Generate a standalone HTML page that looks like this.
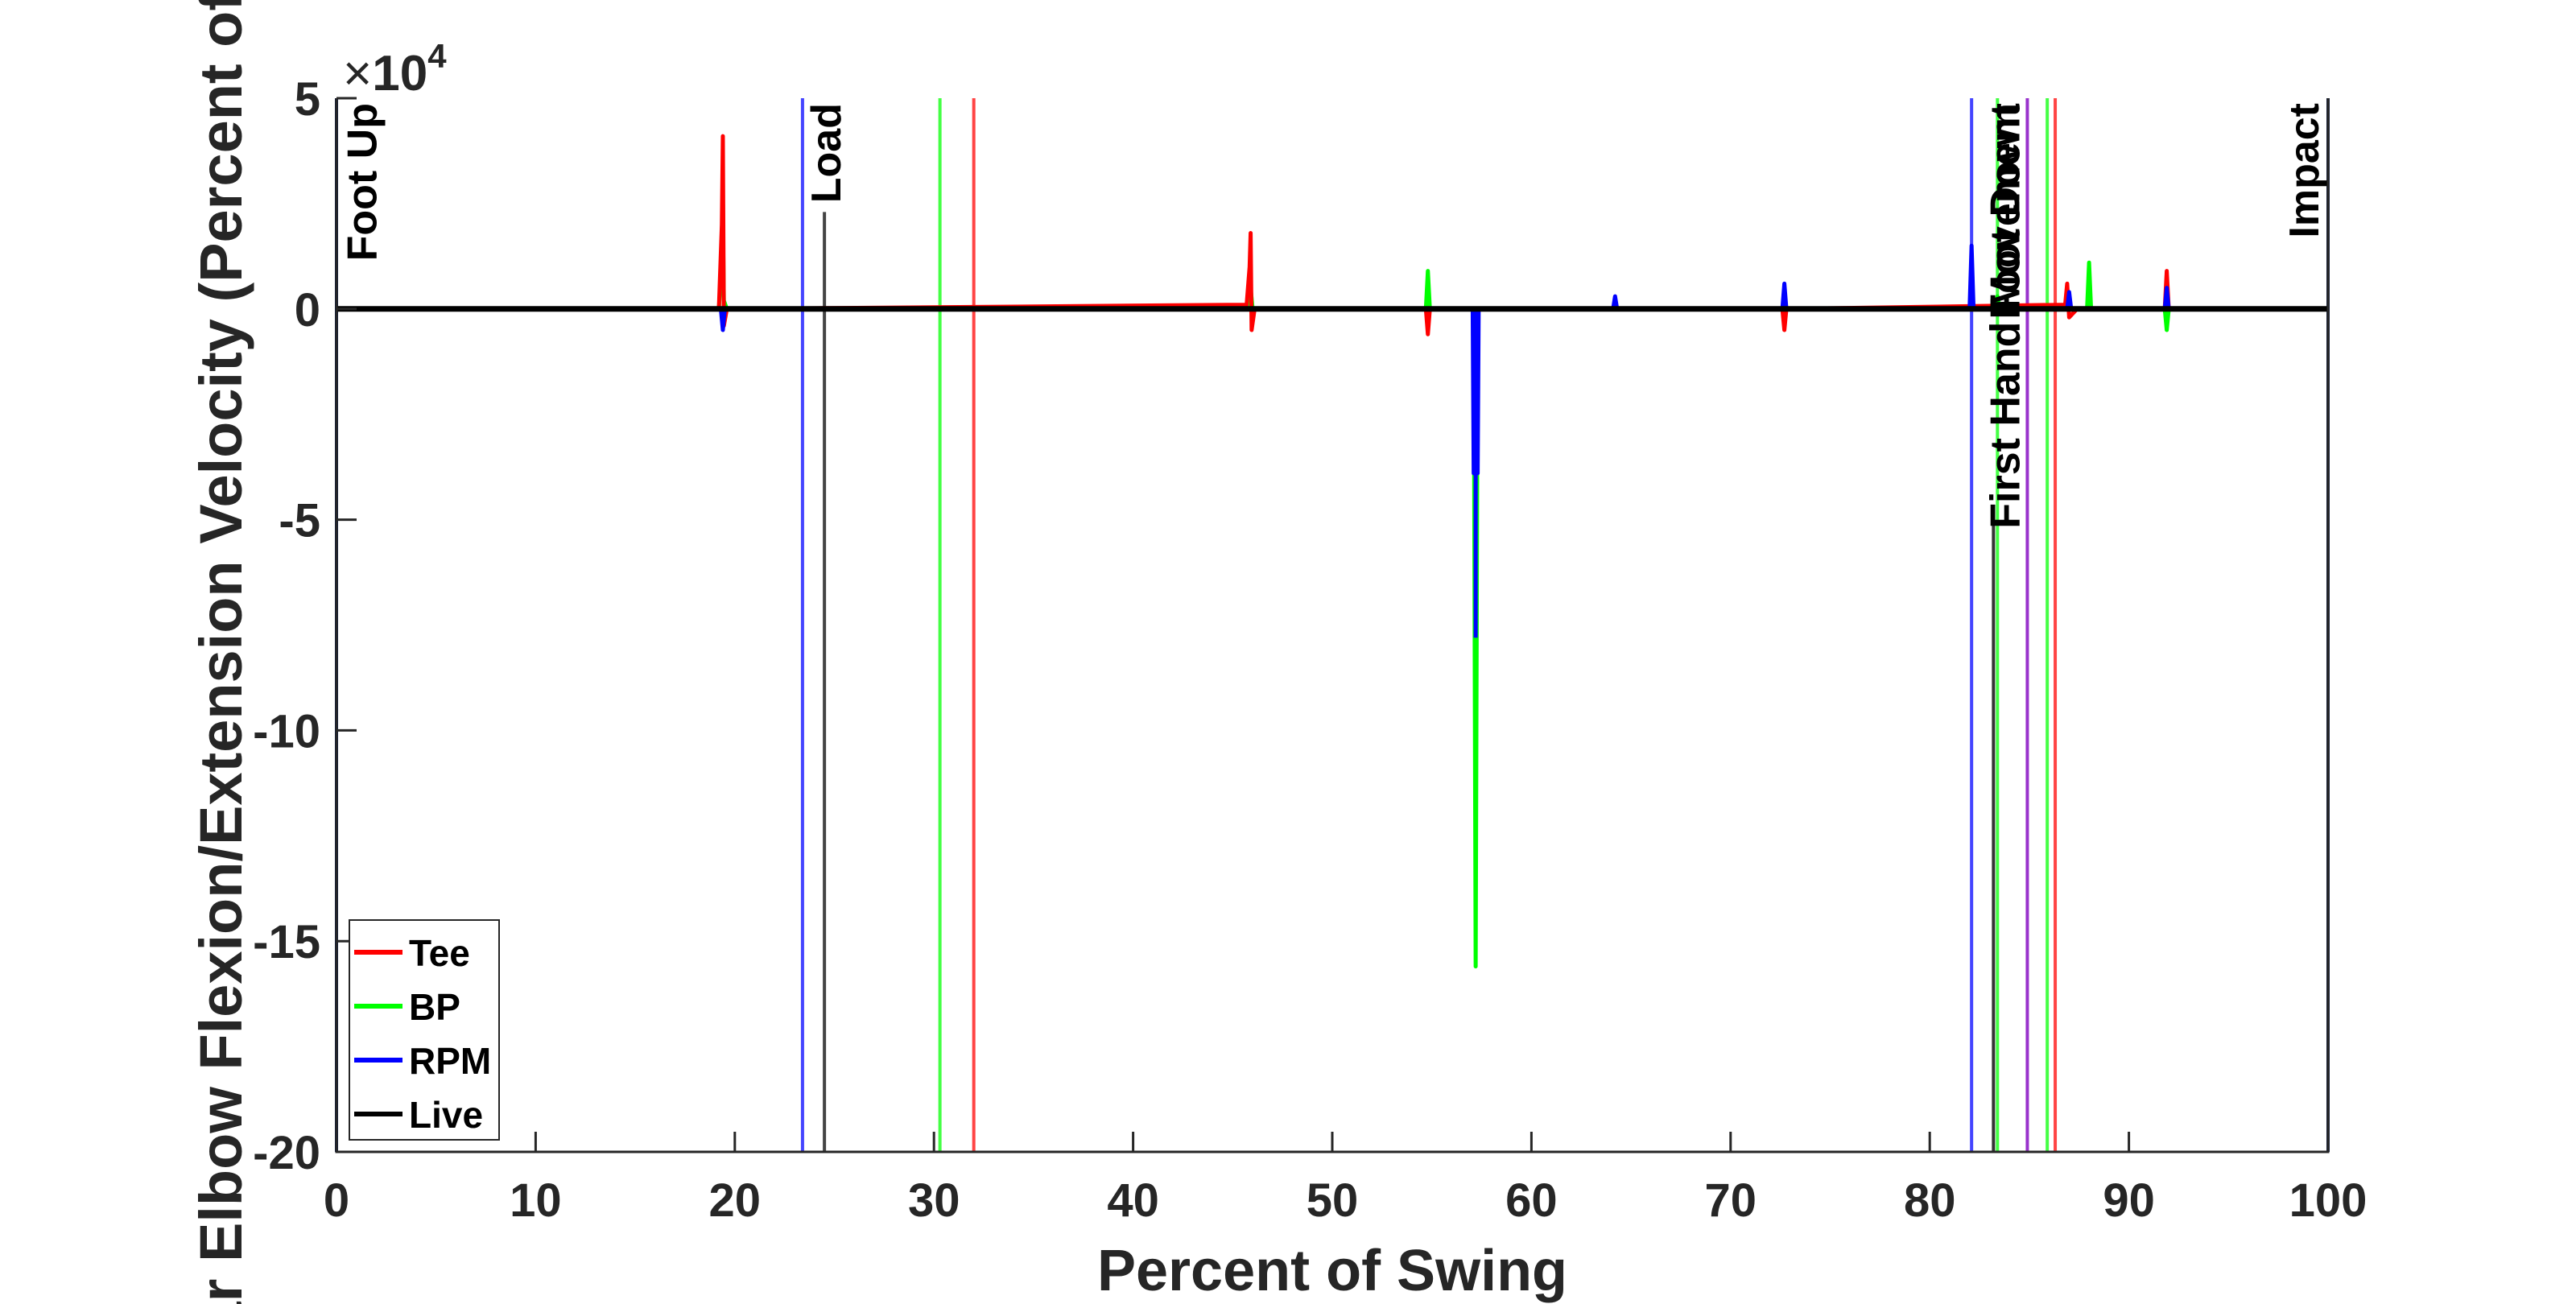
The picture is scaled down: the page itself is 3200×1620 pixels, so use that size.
<!DOCTYPE html>
<html><head><meta charset="utf-8">
<style>
html,body{margin:0;padding:0;background:#fff;overflow:hidden;width:3200px;height:1620px;}
#wrap{width:3200px;height:1620px;overflow:hidden;position:relative;}
svg{display:block;font-family:"Liberation Sans",Arial,sans-serif;overflow:hidden;}
</style></head>
<body>
<div id="wrap">
<svg id="chart" width="3200" height="1620" viewBox="0 0 3200 1620" xmlns="http://www.w3.org/2000/svg">
<g id="plot"></g>
</svg>
</div>
<script>
// ---- data ----
const xTicks = [0,10,20,30,40,50,60,70,80,90,100];
const yTicks = [5,0,-5,-10,-15,-20];
const seriesNames = ["Tee","BP","RPM","Live"];
const seriesColors = ["#ff0000","#00ff00","#0000ff","#000000"];
// spike data (x in % swing, y in 1e4 units)
const teeX = [0,19.2,19.35,19.4,19.45,19.6,45.7,45.85,45.9,45.95,46.1,54.7,54.8,54.9,72.6,72.7,72.8,86.8,86.9,87.0,87.4,91.8,91.9,92.0,100];
const teeY = [0,0,2.0,4.1,-0.4,0,0.1,1.0,1.8,-0.5,0,0,-0.6,0,0,-0.5,0,0.1,0.6,-0.2,0,0,0.9,0,0];
const bpX = [0,19.2,19.35,19.4,19.45,19.6,45.8,45.9,46.0,54.7,54.8,54.9,57.1,57.2,57.3,83.3,83.4,83.5,87.9,88.0,88.1,91.8,91.9,92.0,100];
const bpY = [0,0,1.2,2.1,0.2,0,0,0.5,0,0,0.9,0,0,-15.6,0,0,0.3,0,0,1.1,0,0,-0.5,0,0];
const rpmX = [0,19.3,19.4,19.5,57.05,57.1,57.3,57.35,64.1,64.2,64.3,72.6,72.7,72.8,82.0,82.1,82.2,86.9,87.0,87.1,91.8,91.9,92.0,100];
const rpmY = [0,0,-0.5,0,0,-3.9,-3.9,0,0,0.3,0,0,0.6,0,0,1.5,0,0,0.4,0,0,0.5,0,0];
const rpmNeedleY = -7.8;
const liveX = [0,100];
const liveY = [0,0];
const eventX = [0,23.4,24.5,30.3,32.0,82.1,83.2,83.4,84.9,85.9,86.3,100];
const eventColors = ["#0a1a4a","#4444ff","#444444","#44ff44","#ff4444","#4444ff","#333333","#44ff44","#9933cc","#44ff44","#ff4444","#0a1a4a"];
const eventTop = [5,5,2.3,5,5,5,-5,5,5,5,5,5];
const eventLabels = ["Foot Up","Load","First Hand Movement","Foot Down","Impact"];
const eventLabelX = [1.2,24.5,83.7,83.7,98.7];

// ---- layout ----
const L=418,R=2892,T=122,B=1431;
const xMin=0,xMax=100,yMin=-20,yMax=5;
const sx=v=>L+(v-xMin)/(xMax-xMin)*(R-L);
const sy=v=>T+(yMax-v)/(yMax-yMin)*(B-T);
const NS="http://www.w3.org/2000/svg";
const g=document.getElementById('plot');
function mk(tag,attrs,parent){const e=document.createElementNS(NS,tag);for(const k in attrs)e.setAttribute(k,attrs[k]);(parent||g).appendChild(e);return e;}

// event lines
eventX.forEach((x,i)=>{
  const ln=mk('line',{x1:sx(x),x2:sx(x),y1:sy(eventTop[i]),y2:B,stroke:eventColors[i],'stroke-width':4});
  
  
});
// series
function poly(xs,ys,color,w,name){
  const p=mk('polyline',{points:xs.map((x,i)=>sx(x)+','+sy(ys[i])).join(' '),fill:'none',stroke:color,'stroke-width':w,'stroke-linejoin':'round'});
  
  
}
poly(bpX,bpY,seriesColors[1],5,'series-bp');
poly(teeX,teeY,seriesColors[0],5,'series-tee');
poly(rpmX,rpmY,seriesColors[2],5,'series-rpm');
const rb=mk('rect',{x:sx(57.1),y:sy(0),width:sx(57.3)-sx(57.1),height:sy(-3.9)-sy(0),fill:seriesColors[2]});


const nd=mk('line',{x1:sx(57.2),x2:sx(57.2),y1:sy(0),y2:sy(rpmNeedleY),stroke:seriesColors[2],'stroke-width':5});


poly(liveX,liveY,seriesColors[3],7,'series-live');

// event labels
eventLabels.forEach((t,i)=>{
  const x=sx(eventLabelX[i]);
  const tx=mk('text',{x:0,y:0,transform:`translate(${x+20},${T+6}) rotate(-90)`,'text-anchor':'end','font-size':52,'font-weight':'bold',fill:'#000'});
  tx.textContent=t;
  
  
});

// axes box
const ax=mk('path',{d:`M${L},${T} V${B} H${R} V${T}`,fill:'none',stroke:'#262626','stroke-width':3});


xTicks.forEach(v=>{
  const t=mk('line',{x1:sx(v),x2:sx(v),y1:B,y2:B-25,stroke:'#262626','stroke-width':3});
  
  
  const lb=mk('text',{x:sx(v),y:B+80,'text-anchor':'middle','font-size':58,'font-weight':'bold',fill:'#262626'});
  lb.textContent=v;
  
  
});
yTicks.forEach(v=>{
  const t=mk('line',{x1:L,x2:L+25,y1:sy(v),y2:sy(v),stroke:'#262626','stroke-width':3});
  
  
  const lb=mk('text',{x:L-20,y:sy(v)+21,'text-anchor':'end','font-size':58,'font-weight':'bold',fill:'#262626'});
  lb.textContent=v;
  
  
});
// exponent
const ex=mk('text',{x:L+8,y:T-10,'font-size':62,fill:'#262626'});
ex.innerHTML='<tspan font-weight="normal">×</tspan><tspan font-weight="bold">10</tspan><tspan font-weight="bold" font-size="42" dy="-28">4</tspan>';


// axis titles
const xt=mk('text',{x:(L+R)/2,y:1603,'text-anchor':'middle','font-size':72,'font-weight':'bold',fill:'#262626'});
xt.textContent='Percent of Swing';


const yt=mk('text',{x:0,y:0,transform:`translate(300,${(T+B)/2}) rotate(-90)`,'text-anchor':'middle','font-size':74,'font-weight':'bold',fill:'#262626'});
yt.textContent='Rear Elbow Flexion/Extension Velocity (Percent of Max)';



// legend
const lg=mk('g',{});


mk('rect',{x:434,y:1143,width:186,height:273,fill:'#fff',stroke:'#262626','stroke-width':2},lg);
seriesNames.forEach((n,i)=>{
  const yy=1183+i*67;
  const e=mk('g',{},lg);
  
  
  mk('line',{x1:440,x2:500,y1:yy,y2:yy,stroke:seriesColors[i],'stroke-width':6},e);
  const t=mk('text',{x:508,y:yy+17,'font-size':46,'font-weight':'bold',fill:'#000'},e);
  t.textContent=n;
});
</script>
</body></html>
